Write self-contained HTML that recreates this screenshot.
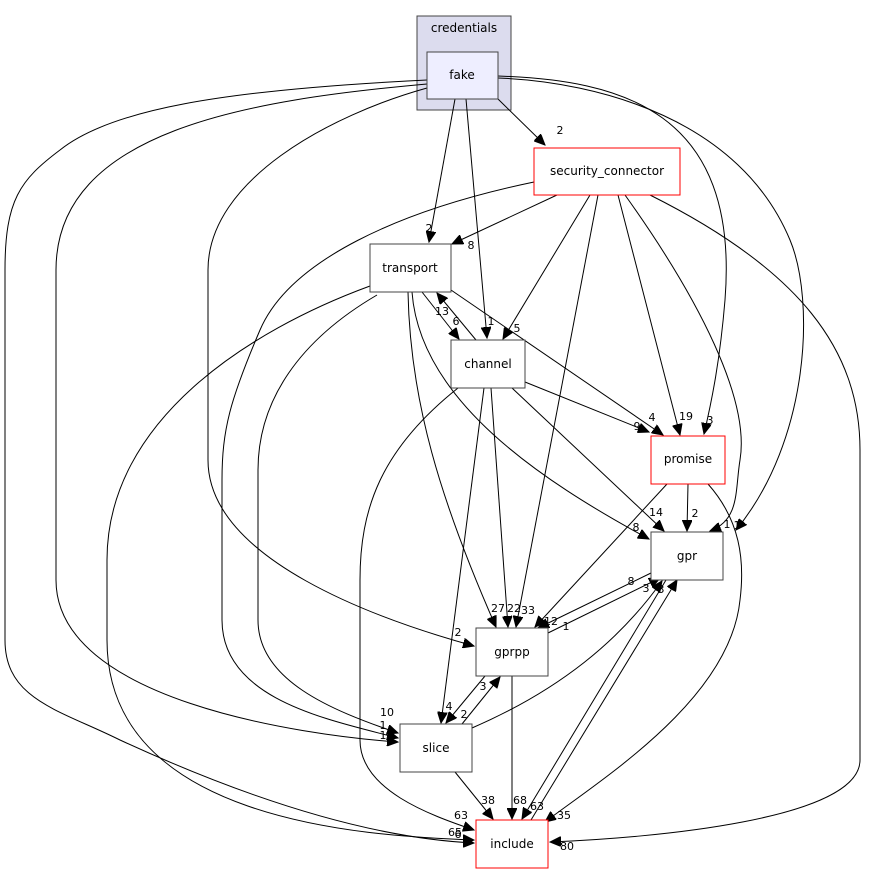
<!DOCTYPE html>
<html><head><meta charset="utf-8"><style>
html,body{margin:0;padding:0;background:#fff;}
svg{display:block;font-family:"DejaVu Sans","Liberation Sans",sans-serif;}
.n{font-size:12px;text-anchor:middle;}
.l{font-size:11px;text-anchor:middle;}
path{fill:none;stroke:#000;stroke-width:1;}
</style></head><body>
<svg width="872" height="873" viewBox="0 0 872 873">
<defs><marker id="a" markerUnits="userSpaceOnUse" markerWidth="12" markerHeight="10" refX="11" refY="5" orient="auto"><path d="M0,0 L11,5 L0,10 Z" style="fill:#000;stroke:#000"/></marker></defs>
<rect x="417" y="16" width="94" height="94" fill="#dcdcee" stroke="#444"/>
<text class="n" x="464" y="32">credentials</text>
<g marker-end="url(#a)">
<path d="M455,99 L429,242"/>
<path d="M466,99 L487,338"/>
<path d="M498,99 L545,145"/>
<path d="M498,76 C620,80 740,110 725,300 C720,360 712,400 704,434"/>
<path d="M498,78 C600,82 740,120 790,240 C815,300 810,440 736,530"/>
<path d="M427,88 C330,115 208,180 208,270 L208,460 C208,560 380,620 474,646"/>
<path d="M427,84 C250,100 56,130 56,270 L56,580 C56,700 300,735 398,742"/>
<path d="M427,80 C220,90 110,110 60,150 C20,180 5,200 5,270 L5,640 C5,700 60,710 120,740 C250,800 370,838 474,843"/>
<path d="M370,286 C250,330 107,420 107,560 L107,640 C107,820 360,836 474,840"/>
<path d="M422,292 L459,339"/>
<path d="M476,340 L437,293"/>
<path d="M451,290 L663,435"/>
<path d="M412,292 C420,400 540,480 649,539"/>
<path d="M408,292 C410,400 440,500 496,627"/>
<path d="M377,295 C300,340 258,400 258,470 L258,620 C258,680 330,710 398,733"/>
<path d="M557,195 L452,244"/>
<path d="M590,195 L503,339"/>
<path d="M598,195 L516,627"/>
<path d="M618,195 L680,435"/>
<path d="M625,195 C700,300 750,400 740,460 C735,490 740,520 710,531"/>
<path d="M534,182 C400,210 290,260 260,330 C230,400 222,430 222,480 L222,620 C222,700 330,720 398,738"/>
<path d="M650,195 C800,270 860,350 860,450 L860,760 C860,820 650,838 550,842"/>
<path d="M525,382 L649,432"/>
<path d="M512,388 L664,531"/>
<path d="M491,388 L508,627"/>
<path d="M484,388 L441,723"/>
<path d="M458,388 C380,450 360,510 360,580 L360,740 C360,790 430,815 474,830"/>
<path d="M688,484 L687,531"/>
<path d="M667,484 L535,627"/>
<path d="M708,484 C740,520 745,560 740,600 C730,700 600,780 545,822"/>
<path d="M651,573 L538,628"/>
<path d="M548,633 L660,578"/>
<path d="M666,580 L522,819"/>
<path d="M531,820 L677,580"/>
<path d="M472,728 C560,690 620,640 662,581"/>
<path d="M485,676 L446,723"/>
<path d="M462,724 L500,677"/>
<path d="M512,676 L512,819"/>
<path d="M455,772 L493,819"/>
</g>
<g fill="#fff" stroke="#444">
<rect x="427" y="52" width="71" height="47" fill="#eeeeff"/>
<rect x="534" y="148" width="146" height="47" stroke="#ff0000"/>
<rect x="370" y="244" width="81" height="48"/>
<rect x="451" y="340" width="74" height="48"/>
<rect x="651" y="436" width="74" height="48" stroke="#ff0000"/>
<rect x="651" y="532" width="72" height="48"/>
<rect x="476" y="628" width="72" height="48"/>
<rect x="400" y="724" width="72" height="48"/>
<rect x="476" y="820" width="72" height="48" stroke="#ff0000"/>
</g>
<text class="n" x="462" y="79">fake</text>
<text class="n" x="607" y="175">security_connector</text>
<text class="n" x="410" y="272">transport</text>
<text class="n" x="488" y="368">channel</text>
<text class="n" x="688" y="463">promise</text>
<text class="n" x="687" y="560">gpr</text>
<text class="n" x="512" y="656">gprpp</text>
<text class="n" x="436" y="752">slice</text>
<text class="n" x="512" y="848">include</text>
<g class="l">
<text x="560" y="134">2</text><text x="429" y="232">2</text><text x="471" y="249">8</text>
<text x="491" y="325">1</text><text x="517" y="332">5</text><text x="442" y="315">13</text><text x="456" y="325">6</text>
<text x="652" y="421">4</text><text x="686" y="420">19</text><text x="710" y="424">3</text><text x="637" y="430">9</text>
<text x="656" y="516">14</text><text x="695" y="517">2</text><text x="636" y="531">8</text><text x="727" y="528">1</text><text x="737" y="529">1</text>
<text x="631" y="585">8</text><text x="646" y="592">3</text><text x="661" y="593">3</text>
<text x="498" y="612">27</text><text x="514" y="612">22</text><text x="528" y="614">33</text><text x="551" y="625">12</text><text x="566" y="630">1</text>
<text x="458" y="636">2</text><text x="483" y="690">3</text><text x="449" y="710">4</text><text x="464" y="718">2</text>
<text x="387" y="716">10</text><text x="383" y="729">1</text><text x="383" y="739">1</text>
<text x="488" y="804">38</text><text x="520" y="804">68</text><text x="537" y="810">63</text><text x="564" y="819">35</text>
<text x="461" y="819">63</text><text x="455" y="836">65</text><text x="458" y="838">6</text><text x="567" y="850">80</text>
</g>
</svg>
</body></html>
